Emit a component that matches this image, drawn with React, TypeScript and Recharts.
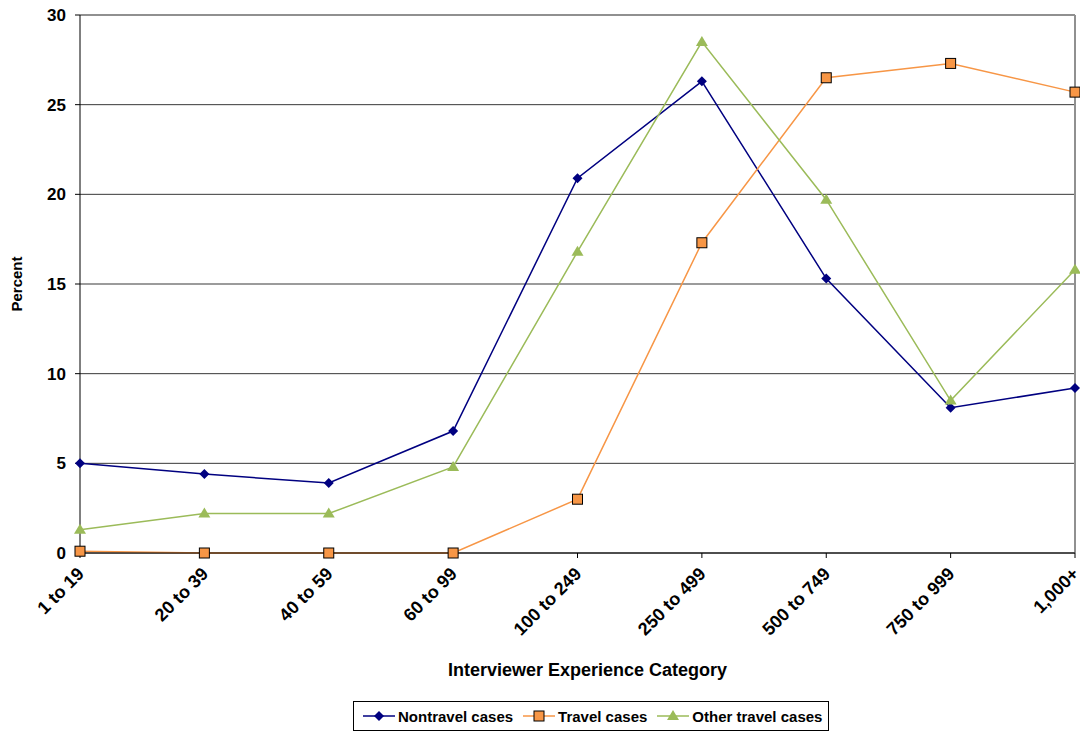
import React from 'react'
import {
  LineChart,
  Line,
  XAxis,
  YAxis,
  CartesianGrid,
  ReferenceLine,
  Legend,
  Label,
} from 'recharts'

const categories = [
  '1 to 19',
  '20 to 39',
  '40 to 59',
  '60 to 99',
  '100 to 249',
  '250 to 499',
  '500 to 749',
  '750 to 999',
  '1,000+',
]
const nontravel = [5.0, 4.4, 3.9, 6.8, 20.9, 26.3, 15.3, 8.1, 9.2]
const travel = [0.1, 0, 0, 0, 3.0, 17.3, 26.5, 27.3, 25.7]
const otherTravel = [1.3, 2.2, 2.2, 4.8, 16.8, 28.5, 19.7, 8.5, 15.8]
const yTicks = [0, 5, 10, 15, 20, 25, 30]

const FONT = '"Liberation Sans", Arial, sans-serif'
const NAVY = '#000080'
const ORANGE = '#F79646'
const GREEN = '#9BBB59'

const data = categories.map((c, i) => ({
  cat: c,
  nontravel: nontravel[i],
  travel: travel[i],
  other: otherTravel[i],
}))

const Diamond = ({ cx, cy }: any) => (
  <path d={`M${cx},${cy - 5}L${cx + 5},${cy}L${cx},${cy + 5}L${cx - 5},${cy}Z`} fill={NAVY} />
)
const Square = ({ cx, cy }: any) => (
  <rect x={cx - 5} y={cy - 5} width={10} height={10} fill={ORANGE} stroke="#000" strokeWidth={1} />
)
const Triangle = ({ cx, cy }: any) => (
  <path d={`M${cx},${cy - 6}L${cx + 6},${cy + 4}L${cx - 6},${cy + 4}Z`} fill={GREEN} />
)

const XTick = ({ x, y, payload }: any) => (
  <text
    transform={`translate(${x + 5},${y + 15}) rotate(-45)`}
    textAnchor="end"
    fontFamily={FONT}
    fontWeight="bold"
    fontSize={18}
    fill="#000"
  >
    {payload.value}
  </text>
)

const legendItems = [
  { name: 'Nontravel cases', color: NAVY, Marker: Diamond },
  { name: 'Travel cases', color: ORANGE, Marker: Square },
  { name: 'Other travel cases', color: GREEN, Marker: Triangle },
]

const LegendBox = () => (
  <div
    style={{
      display: 'flex',
      alignItems: 'center',
      border: '1px solid #000',
      background: '#fff',
      height: 28,
      padding: '0 6px 0 9px',
      fontFamily: FONT,
      fontWeight: 'bold',
      fontSize: 15,
      gap: 10,
    }}
  >
    {legendItems.map(({ name, color, Marker }) => (
      <div key={name} style={{ display: 'flex', alignItems: 'center' }}>
        <svg width={32} height={14} style={{ marginRight: 3 }}>
          <line x1={0} y1={7} x2={32} y2={7} stroke={color} strokeWidth={1.5} />
          <Marker cx={16} cy={7} />
        </svg>
        <span>{name}</span>
      </div>
    ))}
  </div>
)

export default function App() {
  return (
    <div style={{ position: 'absolute', left: 0, top: 0, width: 1080, height: 732, background: '#fff' }}>
      <LineChart width={1080} height={732} data={data} margin={{ top: 15, right: 5, left: 0, bottom: 19 }}>
        <CartesianGrid horizontal vertical={false} stroke="#222" strokeOpacity={0.9} />
        <ReferenceLine y={30} stroke="#909090" strokeWidth={2} />
        <ReferenceLine x="1,000+" stroke="#909090" strokeWidth={2} />
        <XAxis
          dataKey="cat"
          height={130}
          tickSize={5}
          tickLine={{ stroke: '#000' }}
          axisLine={{ stroke: '#000' }}
          interval={0}
          tick={<XTick />}
        >
          <Label
            value="Interviewer Experience Category"
            position="insideBottom"
            offset={7}
            dx={10}
            style={{ fontFamily: FONT, fontWeight: 'bold', fontSize: 18, fill: '#000' }}
          />
        </XAxis>
        <YAxis
          width={80}
          domain={[0, 30]}
          ticks={yTicks}
          tickSize={5}
          tickMargin={9}
          tickLine={{ stroke: '#000' }}
          axisLine={{ stroke: '#000' }}
          tick={{ fontFamily: FONT, fontWeight: 'bold', fontSize: 17, fill: '#000' }}
        >
          <Label
            value="Percent"
            angle={-90}
            position="insideLeft"
            offset={17}
            style={{ fontFamily: FONT, fontWeight: 'bold', fontSize: 15, fill: '#000', textAnchor: 'middle' }}
          />
        </YAxis>
        <Legend
          content={<LegendBox />}
          wrapperStyle={{ position: 'absolute', left: 353, top: 701, width: 'auto', bottom: 'auto' }}
        />
        <Line
          dataKey="nontravel"
          name="Nontravel cases"
          stroke={NAVY}
          strokeWidth={1.5}
          dot={<Diamond />}
          activeDot={false}
          isAnimationActive={false}
        />
        <Line
          dataKey="travel"
          name="Travel cases"
          stroke={ORANGE}
          strokeWidth={1.5}
          dot={<Square />}
          activeDot={false}
          isAnimationActive={false}
        />
        <Line
          dataKey="other"
          name="Other travel cases"
          stroke={GREEN}
          strokeWidth={1.5}
          dot={<Triangle />}
          activeDot={false}
          isAnimationActive={false}
        />
      </LineChart>
    </div>
  )
}
